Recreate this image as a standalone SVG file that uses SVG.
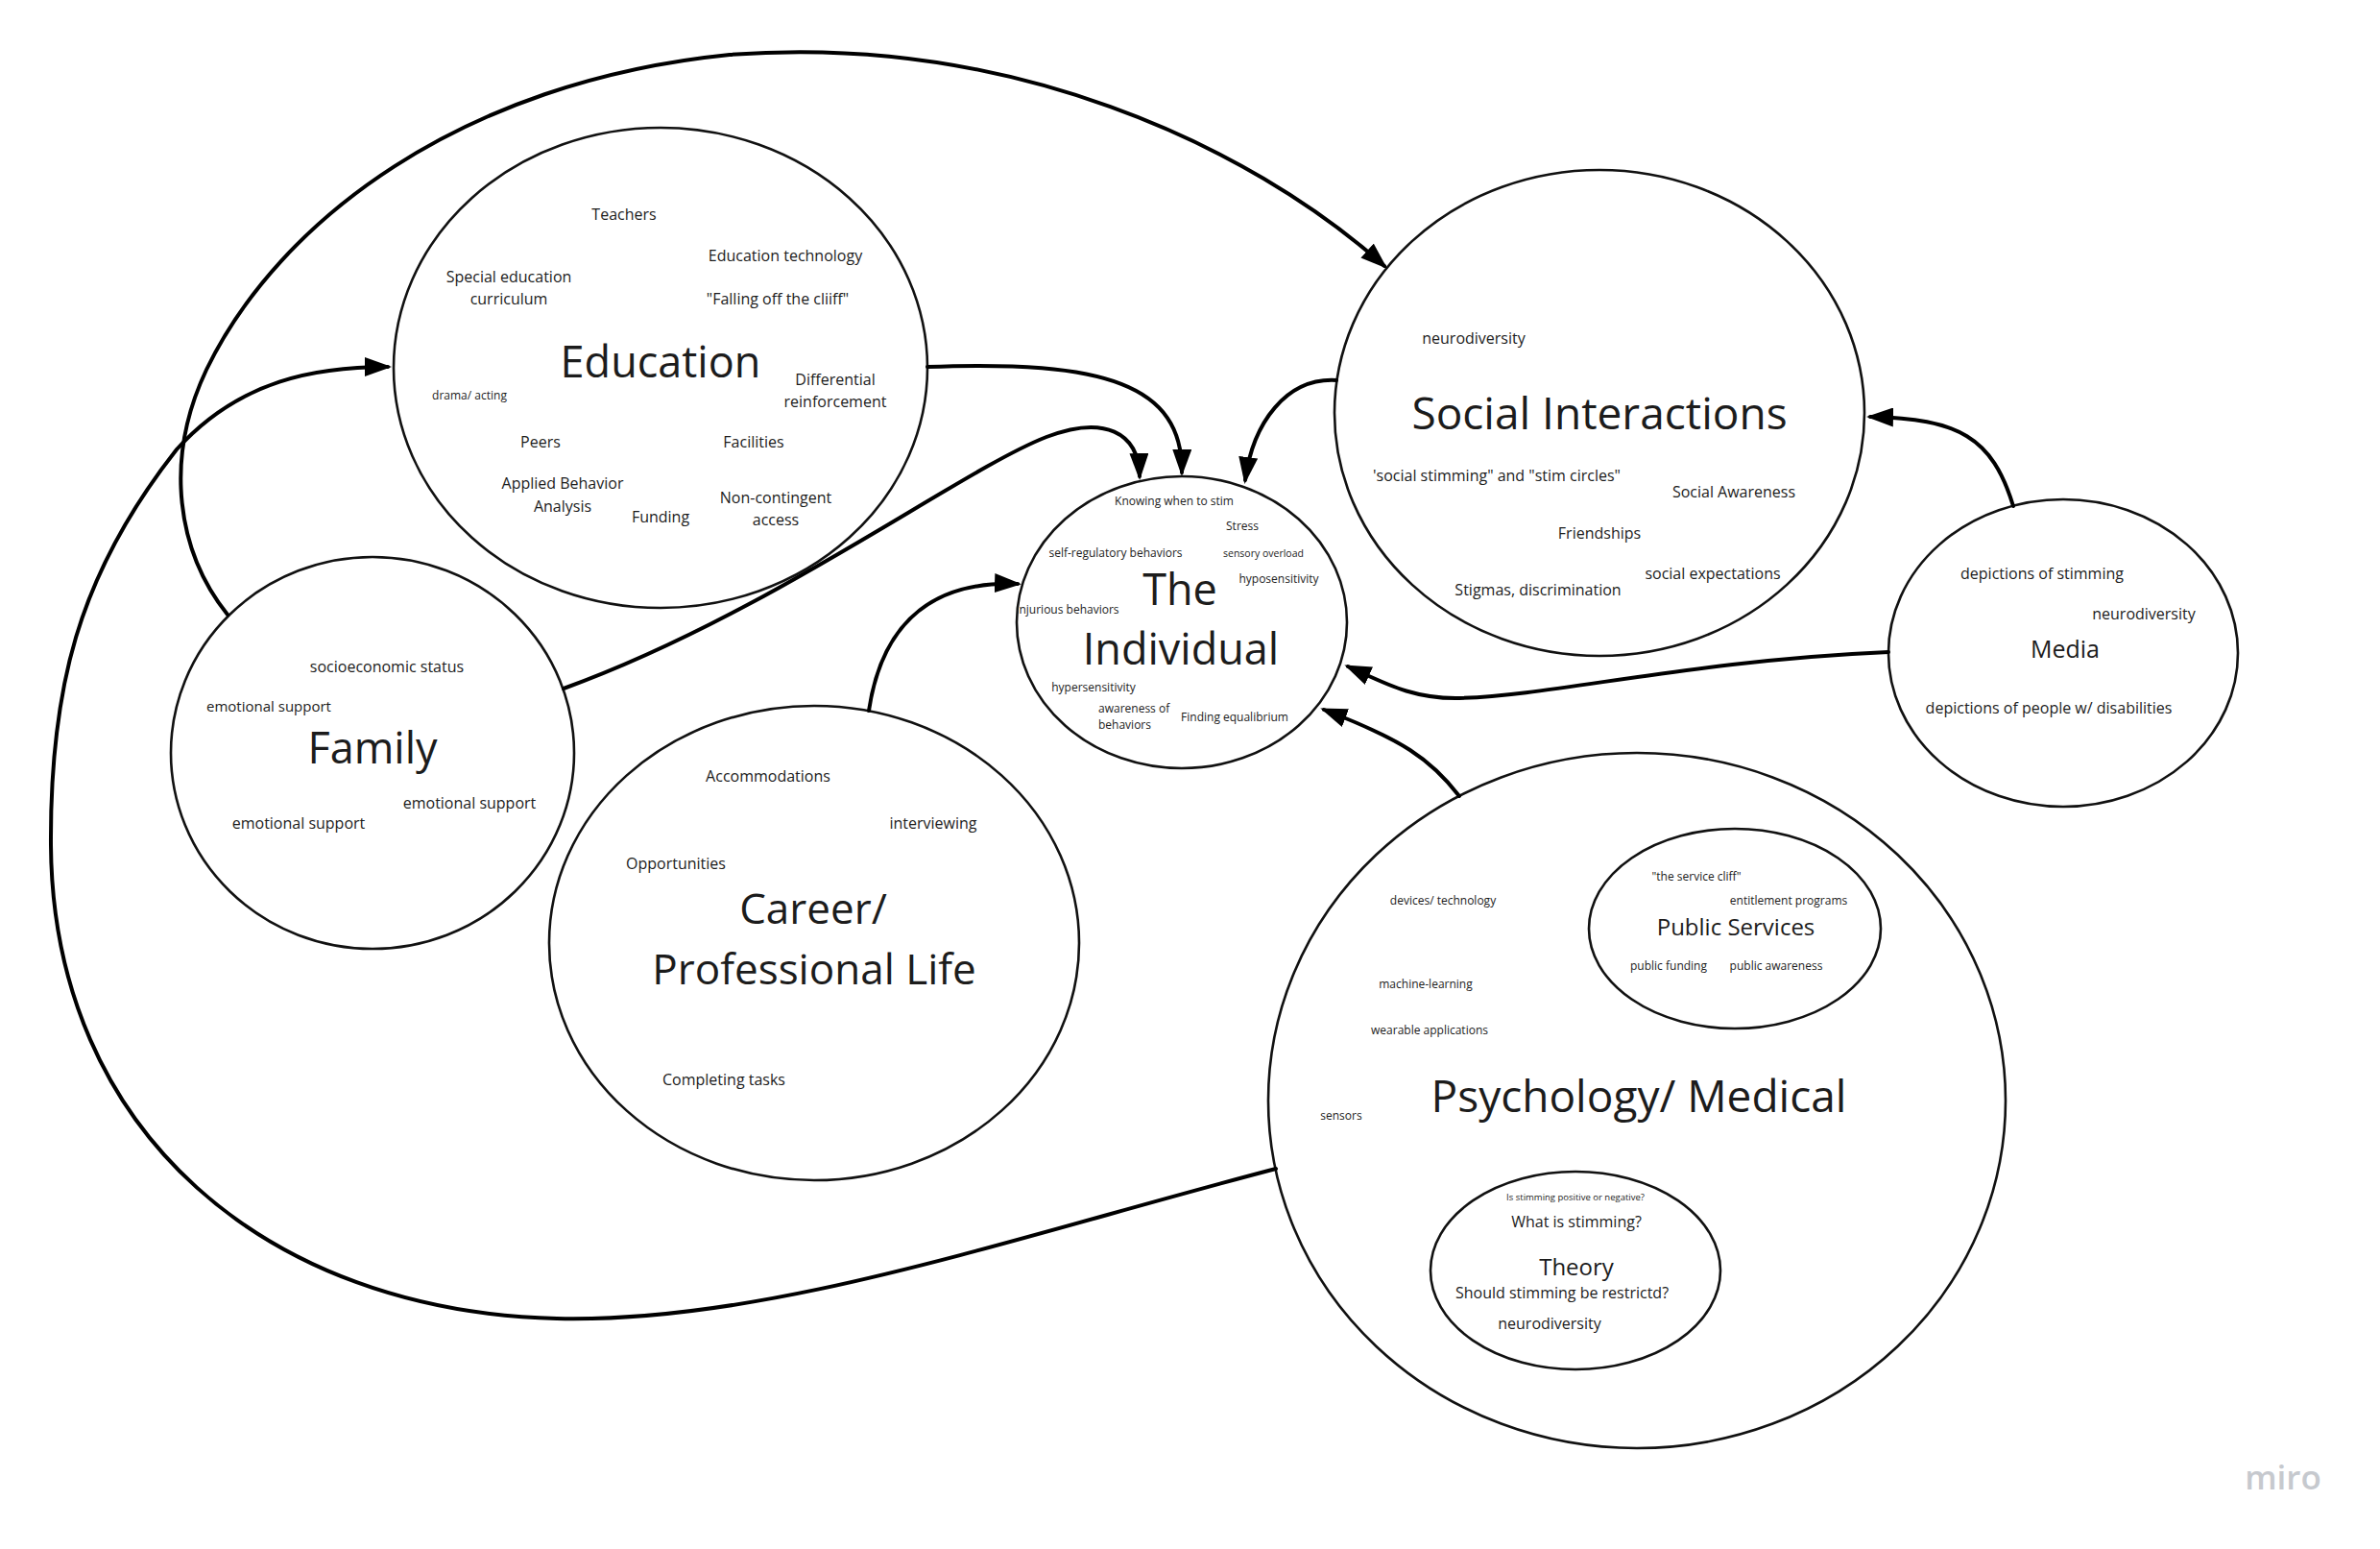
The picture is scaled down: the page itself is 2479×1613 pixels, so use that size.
<svg xmlns="http://www.w3.org/2000/svg" width="2479" height="1613" viewBox="0 0 2479 1613">
<defs>
<style>
.bg{fill:#ffffff}
.node{fill:#ffffff;stroke:#111111;stroke-width:2.6}
.conn{fill:none;stroke:#000000;stroke-width:4;stroke-linecap:round}
text{font-family:"Open Sans","Noto Sans","DejaVu Sans",sans-serif;fill:#1c1c1c;text-anchor:middle}
.t16{font-size:16px}
.t15{font-size:15px}
.t12{font-size:12px}
.t10{font-size:10.5px}
.t9{font-size:9.5px}
.big{font-size:45px}
.mid{font-size:24px}
.logo{font-size:35px;font-weight:600;fill:#c6c9ce}
</style>
<marker id="arr" markerUnits="userSpaceOnUse" viewBox="0 0 28 20" refX="24" refY="10" markerWidth="28" markerHeight="20" orient="auto">
<path d="M0,0 L28,10 L0,20 z" fill="#000000"/>
</marker>
</defs>
<rect class="bg" x="0" y="0" width="2479" height="1613"/>

<g id="node-education">
<ellipse class="node" cx="688" cy="383" rx="278" ry="250"/>
<text class="t16" x="650" y="229">Teachers</text>
<text class="t16" x="818" y="272">Education technology</text>
<text class="t16" x="530" y="294">Special education</text>
<text class="t16" x="530" y="317">curriculum</text>
<text class="t16" x="810" y="317">"Falling off the cliiff"</text>
<text class="big" x="688" y="393">Education</text>
<text class="t16" x="870" y="401">Differential</text>
<text class="t16" x="870" y="424">reinforcement</text>
<text class="t12" x="489" y="416">drama/ acting</text>
<text class="t16" x="563" y="466">Peers</text>
<text class="t16" x="785" y="466">Facilities</text>
<text class="t16" x="586" y="509">Applied Behavior</text>
<text class="t16" x="586" y="533">Analysis</text>
<text class="t16" x="688" y="544">Funding</text>
<text class="t16" x="808" y="524">Non-contingent</text>
<text class="t16" x="808" y="547">access</text>
</g>

<g id="node-social">
<ellipse class="node" cx="1666" cy="430" rx="276" ry="253"/>
<text class="t16" x="1535" y="358">neurodiversity</text>
<text style="font-size:46px" x="1666" y="447">Social Interactions</text>
<text class="t16" x="1559" y="501">'social stimming" and "stim circles"</text>
<text class="t16" x="1806" y="518">Social Awareness</text>
<text class="t16" x="1666" y="561">Friendships</text>
<text class="t16" x="1784" y="603">social expectations</text>
<text class="t16" x="1602" y="620">Stigmas, discrimination</text>
</g>

<g id="node-individual">
<ellipse class="node" cx="1231" cy="648" rx="172" ry="152"/>
<text class="t12" x="1223" y="526">Knowing when to stim</text>
<text class="t12" x="1294" y="552">Stress</text>
<text class="t12" x="1162" y="580">self-regulatory behaviors</text>
<text class="t10" x="1316" y="580">sensory overload</text>
<text class="t12" x="1332" y="607">hyposensitivity</text>
<text class="big" x="1229" y="630">The</text>
<text class="t12" x="1112" y="639">injurious behaviors</text>
<text class="big" x="1230" y="692">Individual</text>
<text class="t12" x="1139" y="720">hypersensitivity</text>
<text class="t12" x="1144" y="742" style="text-anchor:start">awareness of</text>
<text class="t12" x="1144" y="759" style="text-anchor:start">behaviors</text>
<text class="t12" x="1286" y="751">Finding equalibrium</text>
</g>

<g id="node-family">
<ellipse class="node" cx="388" cy="784" rx="210" ry="204"/>
<text class="t16" x="403" y="700">socioeconomic status</text>
<text class="t15" x="280" y="741">emotional support</text>
<text class="big" x="388" y="795">Family</text>
<text class="t16" x="489" y="842">emotional support</text>
<text class="t16" x="311" y="863">emotional support</text>
</g>

<g id="node-career">
<ellipse class="node" cx="848" cy="982" rx="276" ry="247"/>
<text class="t16" x="800" y="814">Accommodations</text>
<text class="t16" x="972" y="863">interviewing</text>
<text class="t16" x="704" y="905">Opportunities</text>
<text style="font-size:44px" x="847" y="962">Career/</text>
<text style="font-size:44px" x="848" y="1025">Professional Life</text>
<text class="t16" x="754" y="1130">Completing tasks</text>
</g>

<g id="node-media">
<ellipse class="node" cx="2149" cy="680" rx="182" ry="160"/>
<text class="t16" x="2127" y="603">depictions of stimming</text>
<text class="t16" x="2233" y="645">neurodiversity</text>
<text style="font-size:25px" x="2151" y="685">Media</text>
<text class="t16" x="2134" y="743">depictions of people w/ disabilities</text>
</g>

<g id="node-psychology">
<ellipse class="node" cx="1705" cy="1146" rx="384" ry="362"/>
<text class="t12" x="1503" y="942">devices/ technology</text>
<text class="t12" x="1485" y="1029">machine-learning</text>
<text class="t12" x="1489" y="1077">wearable applications</text>
<text class="t12" x="1397" y="1166">sensors</text>
<text style="font-size:46px" x="1707" y="1158">Psychology/ Medical</text>
</g>

<g id="node-public-services">
<ellipse class="node" cx="1807" cy="967" rx="152" ry="104"/>
<text class="t12" x="1767" y="917">"the service cliff"</text>
<text class="t12" x="1863" y="942">entitlement programs</text>
<text class="mid" x="1808" y="974">Public Services</text>
<text class="t12" x="1738" y="1010">public funding</text>
<text class="t12" x="1850" y="1010">public awareness</text>
</g>

<g id="node-theory">
<ellipse class="node" cx="1641" cy="1323" rx="151" ry="103"/>
<text class="t9" x="1641" y="1250">Is stimming positive or negative?</text>
<text class="t16" x="1642" y="1278">What is stimming?</text>
<text class="mid" x="1642" y="1328">Theory</text>
<text class="t16" x="1627" y="1352">Should stimming be restrictd?</text>
<text class="t16" x="1614" y="1384">neurodiversity</text>
</g>

<g id="connectors">
<path class="conn" marker-end="url(#arr)" d="M1329,1217 C1050,1290 800,1378 580,1373 C280,1366 55,1180 53,880 C52,720 80,600 184,468 C250,395 330,382 404,382"/>
<path class="conn" marker-end="url(#arr)" d="M237,640 C185,575 170,480 215,385 C290,230 480,85 760,57 C1050,35 1300,150 1442,277"/>
<path class="conn" marker-end="url(#arr)" d="M966,382 C1150,375 1232,400 1231,492"/>
<path class="conn" marker-end="url(#arr)" d="M587,717 C800,640 1000,490 1090,455 C1150,432 1186,450 1187,496"/>
<path class="conn" marker-end="url(#arr)" d="M1392,396 C1340,393 1305,440 1297,500"/>
<path class="conn" marker-end="url(#arr)" d="M905,740 C920,640 980,605 1060,608"/>
<path class="conn" marker-end="url(#arr)" d="M2097,527 C2075,455 2040,436 1948,434"/>
<path class="conn" marker-end="url(#arr)" d="M1967,679 C1760,688 1620,724 1520,727 C1470,728 1440,710 1404,694"/>
<path class="conn" marker-end="url(#arr)" d="M1520,829 C1490,790 1460,770 1379,739"/>
</g>

<text class="logo" x="2378" y="1551">miro</text>
</svg>
